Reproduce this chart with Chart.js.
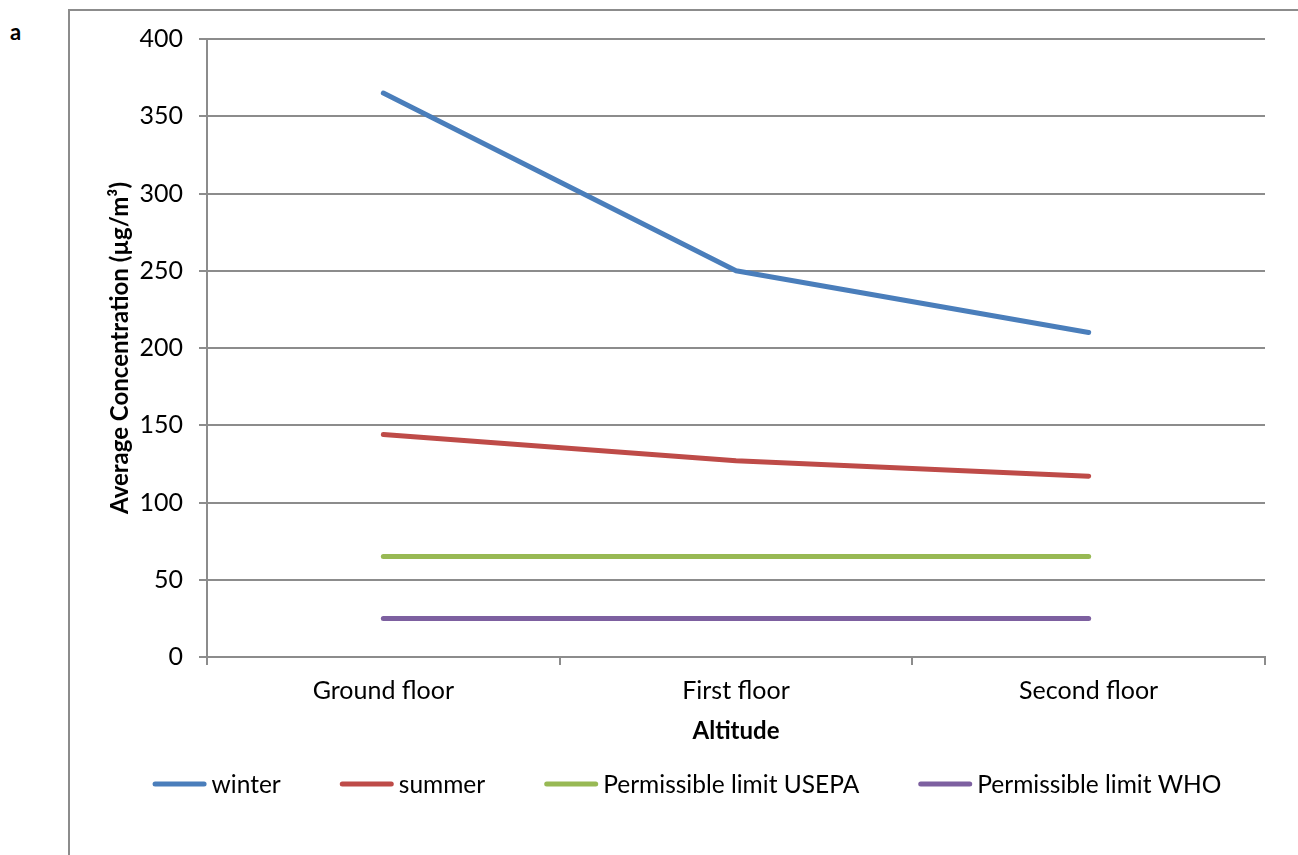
<!DOCTYPE html>
<html>
<head>
<meta charset="utf-8">
<title>Average Concentration by Altitude</title>
<script src="https://cdn.jsdelivr.net/npm/chart.js@4"></script>
<style>
  html, body { margin: 0; padding: 0; background: #ffffff; }
  #wrap { position: relative; width: 1298px; height: 855px; overflow: hidden; }
  #frame { position: absolute; left: 68px; top: 9px; width: 1300px; height: 900px;
           border-left: 2px solid #8c8c8c; border-top: 2px solid #8c8c8c; box-sizing: border-box; }
  #panel { position: absolute; left: 10px; top: 19px; font: bold 22px Lato, sans-serif; line-height: 26px; color: #000; }
  canvas { position: absolute; left: 0; top: 0; }
</style>
</head>
<body>
<div id="wrap">
  <div id="frame"></div>
  <div id="panel">a</div>
  <canvas id="chart" width="1298" height="855"></canvas>
</div>
<script>
// Floors sampled and the measured concentrations (µg/m³)
const categories = ['Ground floor', 'First floor', 'Second floor'];
const winter = [365, 250, 210];
const summer = [144, 127, 117];
const limitUSEPA = [65, 65, 65];
const limitWHO = [25, 25, 25];
const seriesNames = ['winter', 'summer', 'Permissible limit USEPA', 'Permissible limit WHO'];
const seriesColors = ['#4a7ebb', '#be4b48', '#98b954', '#7d60a0'];
const yTicks = [0, 50, 100, 150, 200, 250, 300, 350, 400];

const FONT = 'Lato, "DejaVu Sans", sans-serif';
const GRID = '#8c8c8c';

const values = [winter, summer, limitUSEPA, limitWHO];
const datasets = values.map((v, i) => ({
  label: seriesNames[i],
  data: v,
  borderColor: seriesColors[i],
  backgroundColor: seriesColors[i],
  borderWidth: 5,
  borderCapStyle: 'round',
  borderJoinStyle: 'round',
  pointRadius: 0,
  pointHoverRadius: 0,
  tension: 0,
  fill: false
}));

// Legend row drawn beneath the axis title: short line sample, then the series name
const legendRow = {
  id: 'legendRow',
  afterDraw(chart) {
    const ctx = chart.ctx;
    const sample = 54, gap = 5, spacing = 59, y = 784;
    ctx.save();
    ctx.font = '24.5px ' + FONT;
    const items = chart.data.datasets.map(ds => ({
      ds, w: sample + gap + ctx.measureText(ds.label).width
    }));
    const total = items.reduce((s, it) => s + it.w, 0) + spacing * (items.length - 1);
    let x = 687 - total / 2;
    items.forEach(({ds, w}) => {
      ctx.strokeStyle = ds.borderColor;
      ctx.lineWidth = 5;
      ctx.lineCap = 'round';
      ctx.beginPath();
      ctx.moveTo(x + 2.5, y);
      ctx.lineTo(x + sample - 2.5, y);
      ctx.stroke();
      ctx.fillStyle = '#000';
      ctx.textBaseline = 'middle';
      ctx.textAlign = 'left';
      ctx.fillText(ds.label, x + sample + gap, y + 1);
      x += w + spacing;
    });
    ctx.restore();
  }
};

new Chart(document.getElementById('chart'), {
  type: 'line',
  data: { labels: categories, datasets },
  options: {
    responsive: false,
    animation: false,
    events: [],
    layout: { padding: { left: 109, right: 33, top: 39, bottom: 112 } },
    plugins: {
      legend: { display: false },
      tooltip: { enabled: false },
      title: { display: false }
    },
    scales: {
      x: {
        type: 'category',
        offset: true,
        grid: {
          offset: true,
          drawOnChartArea: false,
          drawTicks: true,
          tickLength: 8,
          color: GRID,
          lineWidth: 2
        },
        border: { display: true, color: GRID, width: 2 },
        ticks: { color: '#000', padding: 11, font: { family: FONT, size: 25 } },
        title: {
          display: true,
          text: 'Altitude',
          color: '#000',
          padding: { top: 0, bottom: 0 },
          font: { family: FONT, size: 24, weight: 'bold', lineHeight: 1 }
        },
        afterFit(scale) { scale.height = 86; }
      },
      y: {
        min: 0,
        max: 400,
        afterBuildTicks(scale) { scale.ticks = yTicks.map(v => ({ value: v })); },
        grid: {
          drawTicks: true,
          tickLength: 8,
          color: GRID,
          lineWidth: 2
        },
        border: { display: true, color: GRID, width: 2 },
        ticks: { color: '#000', padding: 16, font: { family: FONT, size: 25 } },
        title: {
          display: true,
          text: 'Average Concentration (µg/m³)',
          color: '#000',
          padding: { top: 0, bottom: 0 },
          font: { family: FONT, size: 24, weight: 'bold', lineHeight: 0.92 }
        },
        afterFit(scale) { scale.width = 98; }
      }
    }
  },
  plugins: [legendRow]
});
</script>
</body>
</html>
